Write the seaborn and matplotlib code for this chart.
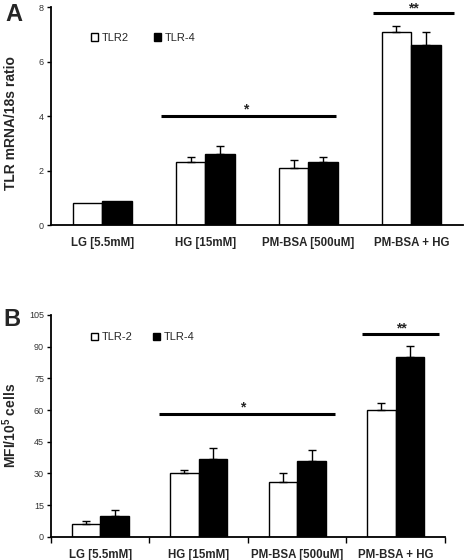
import matplotlib
matplotlib.use("Agg")
import matplotlib.pyplot as plt
import seaborn as sns
import pandas as pd
import numpy as np
from matplotlib.patches import Patch

# ---------------- data ----------------
categories = ["LG [5.5mM]", "HG [15mM]", "PM-BSA [500uM]", "PM-BSA + HG"]

a_series = ["TLR2", "TLR-4"]
a_tlr2 = [0.8, 2.3, 2.1, 7.1]
a_tlr2_err = [0.0, 0.2, 0.3, 0.2]
a_tlr4 = [0.9, 2.6, 2.3, 6.6]
a_tlr4_err = [0.0, 0.3, 0.2, 0.5]
a_yticks = [0, 2, 4, 6, 8]
a_ylabel = "TLR mRNA/18s ratio"

b_series = ["TLR-2", "TLR-4"]
b_tlr2 = [6, 30, 26, 60]
b_tlr2_err = [1.5, 1.7, 4.0, 3.5]
b_tlr4 = [10, 37, 36, 85]
b_tlr4_err = [2.6, 4.8, 5.0, 5.5]
b_yticks = [0, 15, 30, 45, 60, 75, 90, 105]
b_ylabel = r"MFI/10$^{5}$ cells"

# significance annotations: (x_start, x_end, y, label, star_x, star_y)
a_sig = [(0.565, 2.27, 4.0, "*", 1.39, 4.25), (2.626, 3.41, 7.77, "**", 3.02, 7.94)]
b_sig = [(0.60, 2.38, 58, "*", 1.45, 61.2), (2.66, 3.44, 96, "**", 3.06, 98.6)]

# ---------------- style ----------------
sns.set_theme(style="ticks")
plt.rcParams["font.family"] = ["Liberation Sans", "DejaVu Sans"]
plt.rcParams["mathtext.default"] = "regular"

fig = plt.figure(figsize=(4.66, 5.6), dpi=100)
axA = fig.add_axes([0.1094, 0.598, 0.884, 0.3893])
axB = fig.add_axes([0.1094, 0.0416, 0.8455, 0.3959])


def panel(ax, series, v1, e1, v2, e2, yticks, ylabel, sig, legend_xy, colspace, minor_ticks):
    df = pd.DataFrame({
        "cat": categories * 2,
        "series": [series[0]] * len(categories) + [series[1]] * len(categories),
        "val": list(v1) + list(v2),
    })
    sns.barplot(data=df, x="cat", y="val", hue="series", hue_order=series,
                palette=["white", "black"], saturation=1, edgecolor="black",
                linewidth=1.0, width=0.58, errorbar=None, legend=False, ax=ax)
    errs = list(e1) + list(e2)
    xs, hs, es = [], [], []
    for p, e in zip(ax.patches, errs):
        if e > 0:
            xs.append(p.get_x() + p.get_width() / 2)
            hs.append(p.get_height())
            es.append(e)
    ax.errorbar(xs, hs, yerr=[np.zeros(len(es)), es], fmt="none", ecolor="black",
                elinewidth=1.0, capsize=3, capthick=1.0, zorder=3)

    ax.set_xlim(-0.5, 3.5)
    ax.set_ylim(yticks[0], yticks[-1])
    ax.set_yticks(yticks)
    ax.set_xlabel("")
    ax.set_ylabel(ylabel, fontsize=10, fontweight="bold")
    sns.despine(ax=ax)
    for s in ["left", "bottom"]:
        ax.spines[s].set_linewidth(1.3)
        ax.spines[s].set_color("black")
    ax.tick_params(axis="y", labelsize=6.5, length=3, width=1, colors="black",
                   labelcolor="#333333", pad=2)
    ax.tick_params(axis="x", which="major", length=0, pad=8.5, labelsize=8.3)
    for t in ax.get_xticklabels():
        t.set_fontweight("bold")
    if minor_ticks:
        ax.set_xticks([-0.5, 0.5, 1.5, 2.5, 3.5], minor=True)
        ax.tick_params(axis="x", which="minor", length=4, width=1, direction="out",
                       colors="black")

    for x0, x1, y, lab, sx, sy in sig:
        ax.plot([x0, x1], [y, y], color="black", lw=2.2, solid_capstyle="butt",
                clip_on=False)
        ax.text(sx, sy, lab, ha="center", va="center", fontsize=10,
                fontweight="bold", clip_on=False)

    handles = [Patch(facecolor="white", edgecolor="black", linewidth=1.0),
               Patch(facecolor="black", edgecolor="black", linewidth=1.0)]
    ax.legend(handles, series, loc="center left", bbox_to_anchor=legend_xy,
              ncol=2, frameon=False, fontsize=8, handlelength=0.65,
              handleheight=0.65, handletextpad=0.35, columnspacing=colspace,
              borderpad=0, borderaxespad=0)


panel(axA, a_series, a_tlr2, a_tlr2_err, a_tlr4, a_tlr4_err, a_yticks, a_ylabel,
      a_sig, (0.097, 0.858), 2.2, False)
axA.yaxis.set_label_coords(-0.079, 0.47)

panel(axB, b_series, b_tlr2, b_tlr2_err, b_tlr4, b_tlr4_err, b_yticks, b_ylabel,
      b_sig, (0.1015, 0.90), 1.8, True)
axB.yaxis.set_label_coords(-0.082, 0.50)

fig.text(0.011, 0.974, "A", fontsize=17, fontweight="bold", ha="left", va="center")
fig.text(0.007, 0.4286, "B", fontsize=17, fontweight="bold", ha="left", va="center")

fig.savefig("out.png", dpi=100)
